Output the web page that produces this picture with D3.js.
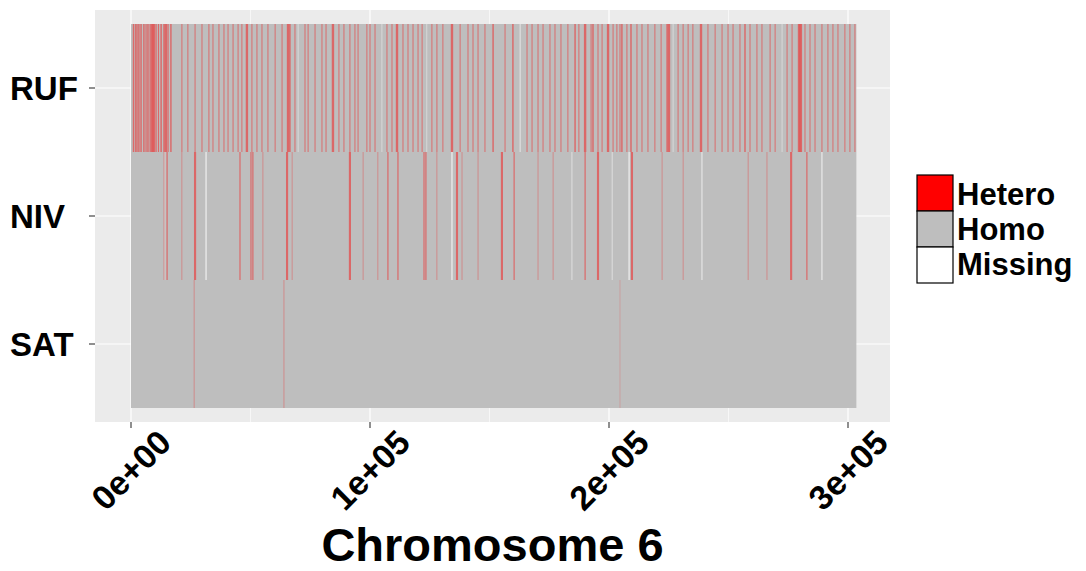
<!DOCTYPE html>
<html>
<head>
<meta charset="utf-8">
<script src="https://cdn.jsdelivr.net/npm/d3@7"></script>
<style>
  html, body { margin: 0; padding: 0; background: #fff; }
  svg text { font-family: "Liberation Sans", Arial, sans-serif; font-weight: bold; fill: #000; }
</style>
</head>
<body>
<svg id="chart" width="1086" height="571"></svg>
<script>
// Samples, top to bottom
const samples = ["RUF", "NIV", "SAT"];
// Genotyped span on chromosome 6 (kb)
const spanKb = [0, 303.5];

// Heterozygous runs: centre position (kb) and run length (bp)
const rufHetKb = [1.0, 1.8, 2.5, 3.3, 4.2, 5.4, 6.3, 7.1, 8.0, 8.8, 9.6, 10.5, 11.5, 12.6, 13.8, 14.6,
  15.5, 16.7, 21.3, 23.8, 26.8, 29.7,
  32.6, 34.3, 36.8, 38.9, 40.6, 42.7, 44.8, 46.4, 48.5, 50.6, 52.7, 54.8, 57.3, 60.3, 63.2, 65.7,
  66.5, 68.6, 72.8, 74.1, 77.0, 79.9, 81.6, 84.5, 87.0, 89.1, 91.6, 93.7, 95.0, 98.7, 100.0, 102.1,
  107.1, 109.2, 111.3, 113.8, 115.9, 118.0, 120.1, 121.8, 125.9, 128.0, 130.5, 134.3, 137.7, 141.0,
  143.1, 145.2, 148.1, 151.5, 156.5, 159.8, 165.7, 167.8, 170.3, 172.4, 175.3, 177.4, 179.9, 182.8,
  185.8, 187.4, 190.0, 192.5, 193.3, 195.4, 197.1, 199.6, 201.7, 203.3, 204.6, 205.4, 207.5, 209.2,
  211.7, 213.8, 216.3, 219.2, 221.8, 224.3, 225.1, 228.9, 231.0, 233.1, 235.1, 238.5, 241.4, 244.4,
  247.3, 249.8, 251.9, 254.8, 256.9, 259.0, 261.9, 264.0, 267.4, 269.5, 274.5, 276.6, 279.5, 280.3,
  282.0, 284.1, 286.2, 289.1, 291.6, 293.7, 295.8, 298.7, 300.8, 302.9];
const rufHetBp = [500, 500, 600, 600, 600, 600, 500, 600, 500, 1000, 1000, 500, 500, 600, 600, 1000,
  500, 600, 400, 400, 400, 400,
  400, 400, 400, 400, 400, 400, 400, 400, 1000, 400, 400, 400, 400, 400, 400, 1000,
  600, 400, 400, 400, 400, 400, 400, 1000, 400, 400, 400, 400, 400, 400, 400, 400,
  400, 400, 1000, 400, 400, 400, 400, 400, 400, 400, 400, 1000, 400, 400,
  400, 400, 400, 600, 400, 600, 400, 400, 400, 400, 400, 400, 400, 400,
  600, 400, 1000, 400, 600, 400, 400, 1000, 400, 400, 400, 600, 400, 600,
  400, 400, 400, 400, 400, 600, 1000, 400, 400, 400, 400, 1000, 400, 400,
  400, 400, 400, 400, 600, 400, 400, 400, 400, 400, 400, 400, 1000, 1000,
  400, 400, 400, 400, 400, 400, 400, 400, 400, 400];
const nivHetKb = [13.8, 15.1, 21.3, 26.8, 45.6, 50.2, 51.0, 55.2, 65.3, 67.4, 91.6, 97.1, 103.3,
  107.5, 111.7, 122.6, 123.4, 128.0, 136.4, 138.5, 145.2, 155.2, 160.3, 170.3, 176.6, 190.0,
  195.4, 209.6, 222.2, 231.0, 258.2, 266.1, 276.2, 282.8];
const nivHetBp = [250, 500, 250, 900, 500, 500, 500, 250, 900, 250, 900, 250, 250,
  500, 500, 500, 500, 250, 900, 250, 250, 900, 500, 250, 250, 500,
  900, 900, 250, 250, 250, 250, 900, 500];
const satHetKb = [26.4, 64.0, 204.6];
const satHetBp = [250, 250, 150];

// Missing calls: position (kb) and run length (bp)
const rufMissKb = [69.9, 105.0, 123.8, 162.8, 226.8, 272.4];
const rufMissBp = [200, 200, 200, 300, 200, 200];
const nivMissKb = [14.2, 31.4, 134.3, 184.5, 201.3, 208.4, 238.9, 289.1];
const nivMissBp = [150, 450, 450, 250, 250, 450, 350, 400];
const satMissKb = [];
const satMissBp = [];

// Axis breaks and legend
const xBreaks = [0, 100000, 200000, 300000];
const xBreakLabels = ["0e+00", "1e+05", "2e+05", "3e+05"];
const xMinorBreaks = [50000, 150000, 250000];
const genotypes = ["Hetero", "Homo", "Missing"];
const genotypeColors = ["#FF0000", "#BEBEBE", "#FFFFFF"];
const xTitle = "Chromosome 6";

const rows = {
  RUF: { het: rufHetKb, hetBp: rufHetBp, miss: rufMissKb, missBp: rufMissBp },
  NIV: { het: nivHetKb, hetBp: nivHetBp, miss: nivMissKb, missBp: nivMissBp },
  SAT: { het: satHetKb, hetBp: satHetBp, miss: satMissKb, missBp: satMissBp }
};

const svg = d3.select("#chart");
const panel = { left: 95, right: 890, top: 10, bottom: 422 };
const color = d3.scaleOrdinal().domain(genotypes).range(genotypeColors);

const x = d3.scaleLinear().domain([0, 300000]).range([131, 848]);
const y = d3.scaleBand().domain(samples).range([24, 408]).paddingInner(0).paddingOuter(0);

// Panel background and grid
svg.append("rect").attr("x", panel.left).attr("y", panel.top)
  .attr("width", panel.right - panel.left).attr("height", panel.bottom - panel.top)
  .attr("fill", "#EBEBEB");
svg.append("g").selectAll("line").data(xMinorBreaks).join("line")
  .attr("x1", d => x(d)).attr("x2", d => x(d))
  .attr("y1", panel.top).attr("y2", panel.bottom)
  .attr("stroke", "#fff").attr("stroke-width", 0.6);
svg.append("g").selectAll("line").data(xBreaks).join("line")
  .attr("x1", d => x(d)).attr("x2", d => x(d))
  .attr("y1", panel.top).attr("y2", panel.bottom)
  .attr("stroke", "#fff").attr("stroke-width", 1.2);
svg.append("g").selectAll("line").data(samples).join("line")
  .attr("x1", panel.left).attr("x2", panel.right)
  .attr("y1", d => y(d) + y.bandwidth() / 2).attr("y2", d => y(d) + y.bandwidth() / 2)
  .attr("stroke", "#fff").attr("stroke-width", 1.2);

// Genotype tiles; heterozygous runs are blended so thin runs read as pink
const tiles = svg.append("g");
samples.forEach(s => {
  const r = rows[s];
  tiles.append("rect")
    .attr("x", x(spanKb[0] * 1000)).attr("y", y(s))
    .attr("width", x(spanKb[1] * 1000) - x(spanKb[0] * 1000)).attr("height", y.bandwidth())
    .attr("fill", color("Homo"));
  const miss = r.miss.map((k, i) => ({ pos: k * 1000, len: r.missBp[i] }));
  tiles.append("g").selectAll("rect").data(miss).join("rect")
    .attr("x", d => x(d.pos - d.len / 2)).attr("y", y(s))
    .attr("width", d => x(d.len) - x(0)).attr("height", y.bandwidth())
    .attr("fill", color("Missing")).attr("fill-opacity", 0.85);
  const het = r.het.map((k, i) => ({ pos: k * 1000, len: r.hetBp[i] }));
  tiles.append("g").selectAll("rect").data(het).join("rect")
    .attr("x", d => x(d.pos - d.len / 2)).attr("y", y(s))
    .attr("width", d => x(d.len) - x(0)).attr("height", y.bandwidth())
    .attr("fill", color("Hetero")).attr("fill-opacity", 0.45);
});

// Y axis
const yAxis = svg.append("g");
yAxis.selectAll("line").data(samples).join("line")
  .attr("x1", panel.left - 6).attr("x2", panel.left)
  .attr("y1", d => y(d) + y.bandwidth() / 2).attr("y2", d => y(d) + y.bandwidth() / 2)
  .attr("stroke", "#333").attr("stroke-width", 1.1);
yAxis.selectAll("text").data(samples).join("text")
  .attr("x", 10).attr("y", d => y(d) + y.bandwidth() / 2 + 12)
  .attr("font-size", 33).text(d => d);

// X axis
const xAxis = svg.append("g");
xAxis.selectAll("line").data(xBreaks).join("line")
  .attr("x1", d => x(d)).attr("x2", d => x(d))
  .attr("y1", panel.bottom).attr("y2", panel.bottom + 6)
  .attr("stroke", "#333").attr("stroke-width", 1.1);
xAxis.selectAll("text").data(xBreaks).join("text")
  .attr("transform", d => `translate(${x(d)},470) rotate(-45)`)
  .attr("text-anchor", "middle").attr("dy", "0.35em")
  .attr("font-size", 34).text((d, i) => xBreakLabels[i]);

svg.append("text").attr("x", (panel.left + panel.right) / 2).attr("y", 561)
  .attr("text-anchor", "middle").attr("font-size", 47).text(xTitle);

// Legend
const legend = svg.append("g");
genotypes.forEach((g, i) => {
  legend.append("rect").attr("x", 917).attr("y", 175 + i * 36)
    .attr("width", 36).attr("height", 36)
    .attr("fill", color(g)).attr("stroke", "#000").attr("stroke-width", 1.2);
  legend.append("text").attr("x", 957).attr("y", 205 + i * 35)
    .attr("font-size", 31).text(g);
});
</script>
</body>
</html>
